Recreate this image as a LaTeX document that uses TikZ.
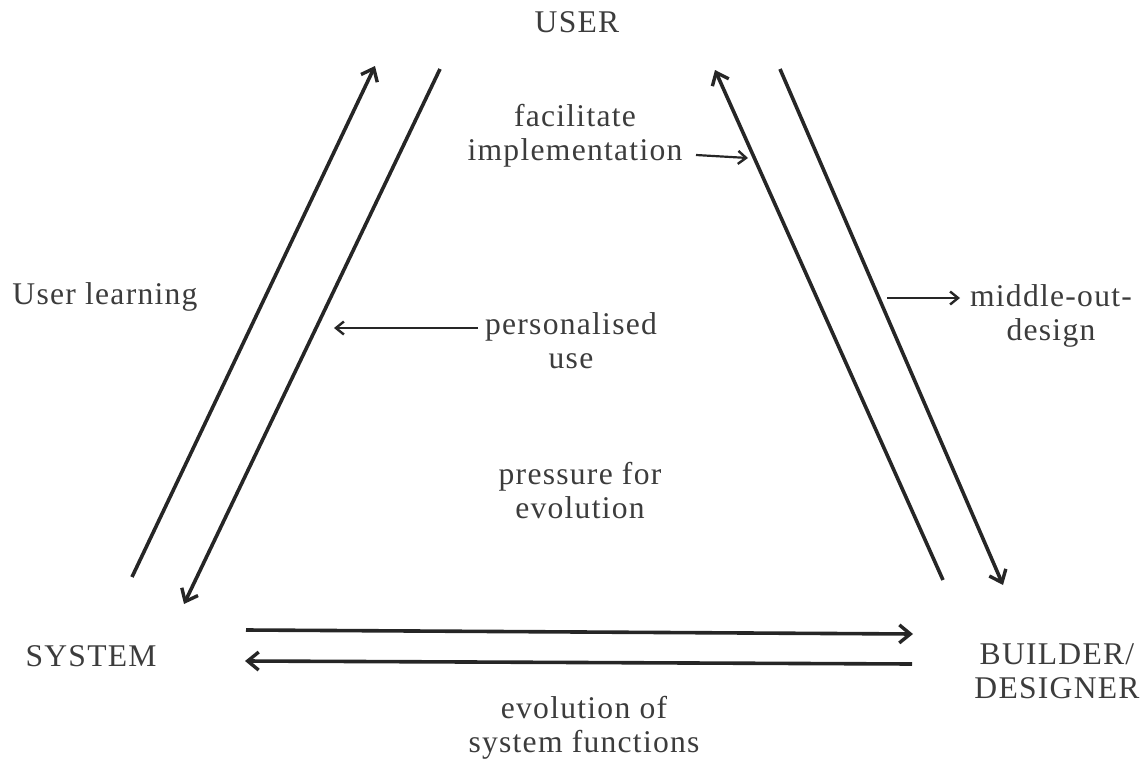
\documentclass[tikz,border=0pt]{standalone}
\usepackage{fontspec}
\setmainfont{Liberation Serif}[LetterSpace=4]
\usetikzlibrary{arrows.meta}
\definecolor{ink}{HTML}{262626}
\definecolor{txt}{HTML}{3C3C3C}
\tikzset{
  flow/.style={draw=ink, line width=1.8pt, -{Straight Barb[length=5.5pt,width=9pt,line width=1.7pt]}},
  pointer/.style={draw=ink, line width=1.1pt, -{Straight Barb[length=4pt,width=6.5pt,line width=1.2pt]}},
  lbl/.style={text=txt, font=\fontsize{15.8}{17}\selectfont, align=center, inner sep=0pt},
}
\begin{document}
\begin{tikzpicture}[x=0.5pt, y=-0.5pt]
\useasboundingbox (0,0) rectangle (1147,760);

% corner labels
\node[lbl] (user) at (577,22) {USER};
\node[lbl] (system) at (91,656) {SYSTEM};
\node[lbl] (builder) at (1057,671) {BUILDER/\\DESIGNER};
\node[lbl] (learn) at (105,297) {User learning};
\node[lbl] (facil) at (575,136) {facilitate\\implementation};
\node[lbl] (pers) at (571,341) {personalised\\use};
\node[lbl] (mid) at (1051,316) {middle-out-\\design};
\node[lbl] (press) at (580,491) {pressure for\\evolution};
\node[lbl] (evol) at (584,728) {evolution of\\system functions};

% end points of the long arrows
\coordinate (a1) at (132,577);  \coordinate (a2) at (375,66);
\coordinate (b1) at (440,69);   \coordinate (b2) at (184,604);
\coordinate (c1) at (943,580);  \coordinate (c2) at (715,70);
\coordinate (d1) at (780,69);   \coordinate (d2) at (1003,585);
\coordinate (e1) at (246,630);  \coordinate (e2) at (913,634);
\coordinate (f1) at (912,664);  \coordinate (f2) at (245,661);

% the four sloping arrows between user, system and builder
\draw[flow] (a1) -- (a2);
\draw[flow] (b1) -- (b2);
\draw[flow] (c1) -- (c2);
\draw[flow] (d1) -- (d2);
% the two arrows between system and builder
\draw[flow] (e1) -- (e2);
\draw[flow] (f1) -- (f2);

% pointers from the labels to the arrows
\coordinate (fs) at (696,155);  \coordinate (fp) at (748,158);
\coordinate (ps) at (478,328);  \coordinate (pp) at (334,328);
\coordinate (mp) at (887,298);  \coordinate (ms) at (960,298);
\draw[pointer] (fs) -- (fp);
\draw[pointer] (ps) -- (pp);
\draw[pointer] (mp) -- (ms);
\end{tikzpicture}
\end{document}
